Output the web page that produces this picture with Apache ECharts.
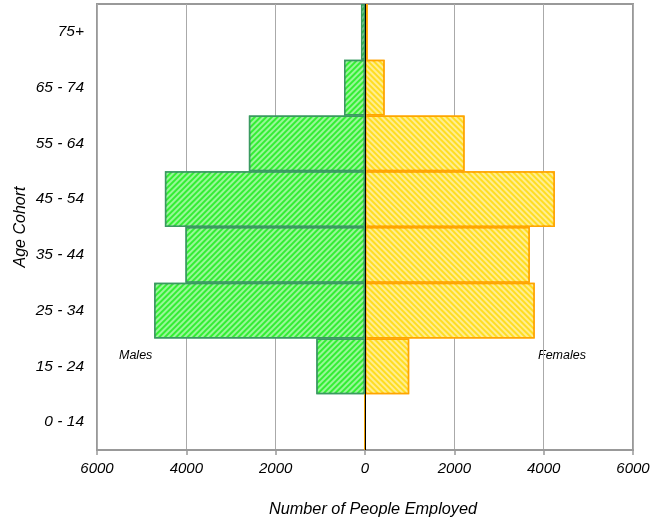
<!DOCTYPE html>
<html>
<head>
<meta charset="utf-8">
<script src="https://cdn.jsdelivr.net/npm/echarts@6/dist/echarts.min.js"></script>
<style>html,body{margin:0;padding:0;background:#fff}#c{width:659px;height:520px}</style>
</head>
<body>
<div id="c"></div>
<script>
var categories = ['0 - 14', '15 - 24', '25 - 34', '35 - 44', '45 - 54', '55 - 64', '65 - 74', '75+'];
var males = [0, 1090, 4720, 4020, 4480, 2600, 470, 90];
var females = [0, 990, 3800, 3690, 4250, 2230, 440, 60];
var xTicks = [-6000, -4000, -2000, 0, 2000, 4000, 6000];

var font = 'Liberation Sans, Arial, Helvetica, sans-serif';
var chart = echarts.init(document.getElementById('c'));
chart.setOption({
  animation: false,
  grid: { left: 97, right: 26, top: 4, bottom: 70, show: true, borderColor: '#999', borderWidth: 2, containLabel: false, outerBoundsMode: 'none' },
  xAxis: {
    type: 'value', min: -6000, max: 6000, interval: 2000,
    axisLine: { show: true, lineStyle: { color: '#999', width: 2 } },
    axisTick: { show: true, length: 5, lineStyle: { color: '#999', width: 1.5 } },
    splitLine: { show: true, lineStyle: { color: '#aaa', width: 1 } },
    axisLabel: { formatter: function (v) { return String(Math.abs(v)); }, fontFamily: font, fontStyle: 'italic', fontSize: 15, color: '#000', margin: 11 },
    name: 'Number of People Employed', nameLocation: 'middle', nameGap: 51, nameMoveOverlap: false,
    nameTextStyle: { fontFamily: font, fontStyle: 'italic', fontSize: 16.3, color: '#000', padding: [0, 0, 0, 16] }
  },
  yAxis: {
    type: 'category', data: categories,
    axisLine: { show: false }, axisTick: { show: false }, splitLine: { show: false },
    axisLabel: { fontFamily: font, fontStyle: 'italic', fontSize: 15.5, color: '#000', margin: 13 },
    name: 'Age Cohort', nameLocation: 'middle', nameGap: 68, nameRotate: 90, nameMoveOverlap: false,
    nameTextStyle: { fontFamily: font, fontStyle: 'italic', fontSize: 16, color: '#000' }
  },
  series: [
    {
      name: 'Males', type: 'bar', barGap: '-100%', barCategoryGap: '0%',
      data: males.map(function (v) { return -v; }),
      itemStyle: {
        color: '#33ee33', borderColor: '#3a9a60', borderWidth: 1.5,
        decal: { symbol: 'rect', symbolSize: 1, color: 'rgba(255,255,255,0.5)', dashArrayX: [1, 0], dashArrayY: [1.5, 2], rotation: -Math.PI / 4 }
      },
      markLine: {
        silent: true, symbol: 'none', label: { show: false },
        lineStyle: { color: '#000', width: 1, type: 'solid' },
        data: [{ xAxis: 0 }]
      }
    },
    {
      name: 'Females', type: 'bar', barGap: '-100%', barCategoryGap: '0%',
      data: females,
      itemStyle: {
        color: '#ffdd22', borderColor: '#ffa500', borderWidth: 1.5,
        decal: { symbol: 'rect', symbolSize: 1, color: 'rgba(255,255,255,0.5)', dashArrayX: [1, 0], dashArrayY: [1.5, 2], rotation: Math.PI / 4 }
      }
    }
  ],
  graphic: [
    { type: 'text', left: 119, top: 349, style: { text: 'Males', fontFamily: font, fontStyle: 'italic', fontSize: 12.5, fill: '#000' } },
    { type: 'text', left: 538, top: 349, style: { text: 'Females', fontFamily: font, fontStyle: 'italic', fontSize: 12.5, fill: '#000' } }
  ]
});
</script>
</body>
</html>
